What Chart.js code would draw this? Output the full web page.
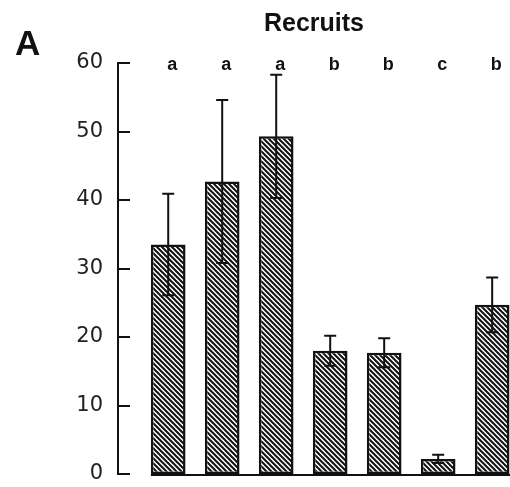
<!DOCTYPE html>
<html>
<head>
<meta charset="utf-8">
<script src="https://cdn.jsdelivr.net/npm/chart.js@4/dist/chart.umd.min.js"></script>
<style>
  html, body { margin: 0; padding: 0; background: #fff; overflow: hidden; }
  canvas { display: block; }
</style>
</head>
<body>
<canvas id="myChart" width="510" height="487"></canvas>
<script>
// data
const groups = ['1', '2', '3', '4', '5', '6', '7'];
const recruits = [33.5, 42.7, 49.3, 18.0, 17.7, 2.2, 24.7];
const errs = [7.4, 11.9, 9.0, 2.2, 2.1, 0.6, 4.0];
const letters = ['a', 'a', 'a', 'b', 'b', 'c', 'b'];
const yTicks = [0, 10, 20, 30, 40, 50, 60];

const ink = '#111';

// hatch fill, stripes running down to the right
function hatch() {
  let c = document.createElement('canvas');
  c.width = 5; c.height = 5;
  let g = c.getContext('2d');
  g.fillStyle = '#fff';
  g.fillRect(0, 0, 5, 5);
  g.strokeStyle = ink;
  g.lineWidth = 2;
  g.beginPath();
  g.moveTo(-1, -1); g.lineTo(6, 6);
  g.moveTo(-1, 4); g.lineTo(1, 6);
  g.moveTo(4, -1); g.lineTo(6, 1);
  g.stroke();
  return document.getElementById('myChart').getContext('2d').createPattern(c, 'repeat');
}

// extra drawing: inward y ticks, baseline, error bars, letters, panel label
const extras = {
  id: 'extras',
  afterDatasetsDraw(chart) {
    const ctx = chart.ctx;
    const y = chart.scales.y;
    const area = chart.chartArea;
    const bars = chart.getDatasetMeta(0).data;
    ctx.save();
    ctx.strokeStyle = ink;
    ctx.lineWidth = 2;

    // ticks pointing into the plot
    yTicks.forEach(function (t) {
      let py = Math.round(y.getPixelForValue(t));
      ctx.beginPath();
      ctx.moveTo(area.left, py);
      ctx.lineTo(area.left + 12, py);
      ctx.stroke();
    });

    // baseline under the bars only
    let y0 = y.getPixelForValue(0) + 1;
    ctx.beginPath();
    ctx.moveTo(bars[0].x - bars[0].width / 2, y0);
    ctx.lineTo(area.right, y0);
    ctx.stroke();

    // error bars
    bars.forEach(function (b, i) {
      let hi = y.getPixelForValue(recruits[i] + errs[i]);
      let lo = y.getPixelForValue(recruits[i] - errs[i]);
      ctx.beginPath();
      ctx.moveTo(b.x, hi); ctx.lineTo(b.x, lo);
      ctx.moveTo(b.x - 6, hi); ctx.lineTo(b.x + 6, hi);
      ctx.moveTo(b.x - 6, lo); ctx.lineTo(b.x + 6, lo);
      ctx.stroke();
    });

    // significance letters
    ctx.fillStyle = ink;
    ctx.font = 'bold 18px "Liberation Sans", Arial, sans-serif';
    ctx.textAlign = 'center';
    ctx.textBaseline = 'middle';
    let ly = y.getPixelForValue(60) + 2;
    bars.forEach(function (b, i) {
      ctx.fillText(letters[i], b.x + 4, ly);
    });

    // panel letter
    ctx.font = 'bold 35px "Liberation Sans", Arial, sans-serif';
    ctx.textAlign = 'left';
    ctx.fillText('A', 15, 45);
    ctx.restore();
  }
};

const ctx = document.getElementById('myChart').getContext('2d');
const chart = new Chart(ctx, {
  type: 'bar',
  data: {
    datasets: [{
      label: 'Recruits',
      data: groups.map(function (g, i) { return { x: i + 1, y: recruits[i] }; }),
      backgroundColor: hatch(),
      borderColor: ink,
      borderWidth: 2.5,
      borderSkipped: false,
      barPercentage: 0.69,
      categoryPercentage: 1
    }]
  },
  options: {
    responsive: false,
    animation: false,
    devicePixelRatio: 1,
    layout: { padding: { left: 58, right: 0, top: 0, bottom: 13 } },
    plugins: {
      legend: { display: false },
      tooltip: { enabled: false },
      title: {
        display: true,
        text: 'Recruits',
        fullSize: false,
        color: ink,
        font: { family: '"Liberation Sans", Arial, sans-serif', size: 25, weight: 'bold' },
        padding: { top: 9, bottom: 24 }
      }
    },
    scales: {
      x: {
        type: 'linear',
        display: false,
        min: 0.07,
        max: 7.33,
        offset: false
      },
      y: {
        min: 0,
        max: 60,
        afterFit: function (s) {
          s.width = 60;
          s.paddingTop = 0;
          s.paddingBottom = 0;
        },
        afterBuildTicks: function (s) { s.ticks = yTicks.map(function (v) { return { value: v }; }); },
        grid: { display: false, drawTicks: false },
        border: { display: true, color: ink, width: 2 },
        ticks: {
          color: '#222',
          padding: 15,
          font: { family: '"DejaVu Sans", sans-serif', size: 21 }
        }
      }
    }
  },
  plugins: [extras]
});
</script>
</body>
</html>
